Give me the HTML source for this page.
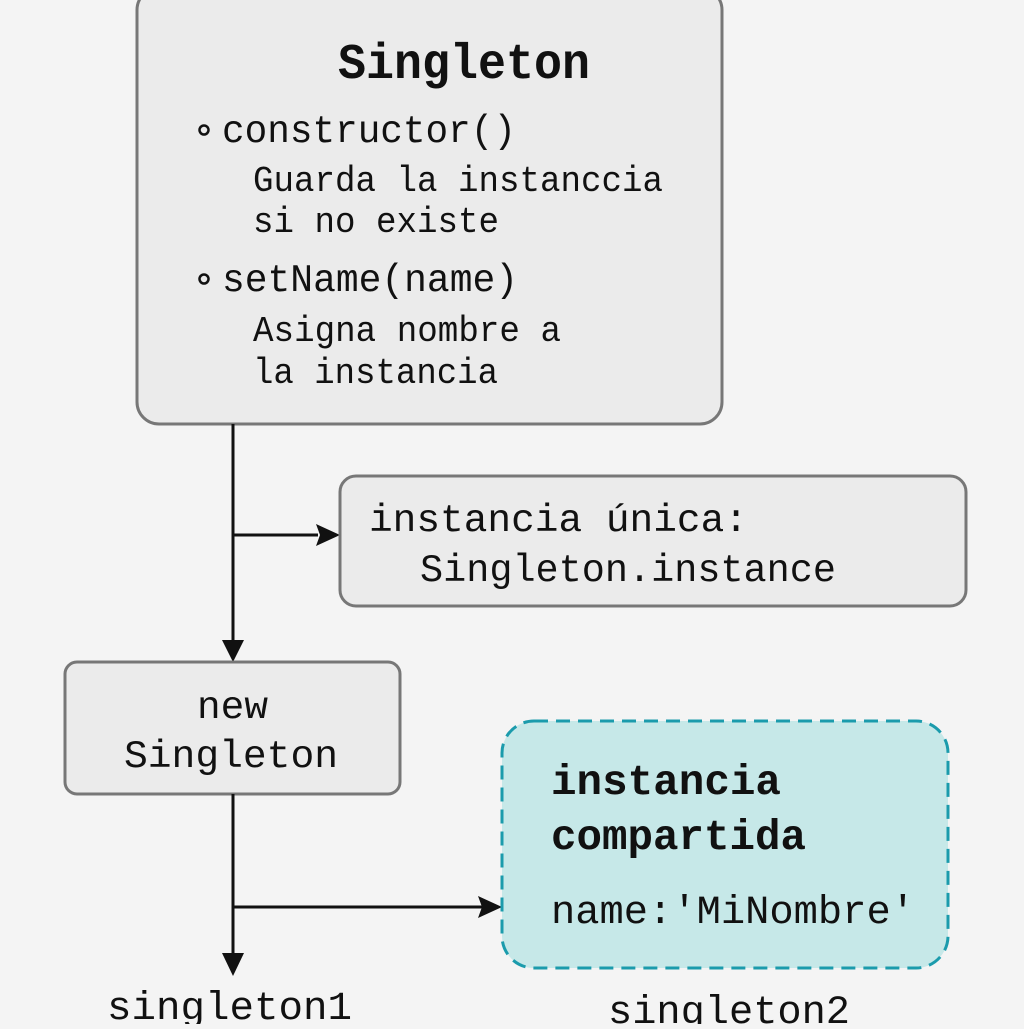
<!DOCTYPE html>
<html><head><meta charset="utf-8"><style>html,body{margin:0;padding:0;background:#f4f4f4}</style></head>
<body>
<svg width="1024" height="1024" viewBox="0 0 1024 1024" xmlns="http://www.w3.org/2000/svg" font-family="Liberation Mono, DejaVu Sans Mono, monospace" fill="#111">
<rect width="1024" height="1024" fill="#f4f4f4"/>
<rect x="137" y="-12" width="585" height="436" rx="22" fill="#ebebeb" stroke="#777" stroke-width="3"/>
<text x="338" y="78" font-size="50" font-weight="bold" textLength="252" lengthAdjust="spacingAndGlyphs">Singleton</text>
<circle cx="204" cy="130" r="4.5" fill="none" stroke="#111" stroke-width="2.5"/>
<text x="222" y="142" font-size="39" textLength="294" lengthAdjust="spacingAndGlyphs">constructor()</text>
<text x="253" y="191" font-size="36" textLength="410" lengthAdjust="spacingAndGlyphs">Guarda la instanccia</text>
<text x="253" y="232" font-size="36" textLength="246" lengthAdjust="spacingAndGlyphs">si no existe</text>
<circle cx="204" cy="279" r="4.5" fill="none" stroke="#111" stroke-width="2.5"/>
<text x="222" y="291" font-size="39" textLength="296" lengthAdjust="spacingAndGlyphs">setName(name)</text>
<text x="253" y="341" font-size="36" textLength="308" lengthAdjust="spacingAndGlyphs">Asigna nombre a</text>
<text x="253" y="383" font-size="36" textLength="245" lengthAdjust="spacingAndGlyphs">la instancia</text>
<line x1="233" y1="424" x2="233" y2="640" stroke="#111" stroke-width="3"/>
<path d="M222,640 L244,640 L233,662 z" fill="#111"/>
<line x1="233" y1="535" x2="318" y2="535" stroke="#111" stroke-width="3"/>
<path d="M316,524 L340,535 L316,546 L320,535 z" fill="#111"/>
<rect x="340" y="476" width="626" height="130" rx="16" fill="#ebebeb" stroke="#777" stroke-width="3"/>
<text x="369" y="531" font-size="39" textLength="379" lengthAdjust="spacingAndGlyphs">instancia única:</text>
<text x="420" y="581" font-size="39" textLength="416" lengthAdjust="spacingAndGlyphs">Singleton.instance</text>
<rect x="65" y="662" width="335" height="132" rx="12" fill="#ebebeb" stroke="#777" stroke-width="3"/>
<text x="197" y="718" font-size="39" textLength="71" lengthAdjust="spacingAndGlyphs">new</text>
<text x="124" y="767" font-size="39" textLength="214" lengthAdjust="spacingAndGlyphs">Singleton</text>
<line x1="233" y1="794" x2="233" y2="955" stroke="#111" stroke-width="3"/>
<path d="M222,953 L244,953 L233,976 z" fill="#111"/>
<line x1="233" y1="907" x2="482" y2="907" stroke="#111" stroke-width="3"/>
<path d="M478,896 L502,907 L478,918 L482,907 z" fill="#111"/>
<rect x="502" y="721" width="446" height="247" rx="32" fill="#c6e8e8" stroke="#1b9bac" stroke-width="3" stroke-dasharray="14,8"/>
<text x="551" y="794" font-size="43" font-weight="bold" textLength="230" lengthAdjust="spacingAndGlyphs">instancia</text>
<text x="551" y="849" font-size="43" font-weight="bold" textLength="255" lengthAdjust="spacingAndGlyphs">compartida</text>
<text x="551" y="923" font-size="40" textLength="364" lengthAdjust="spacingAndGlyphs">name:'MiNombre'</text>
<text x="107" y="1019" font-size="40" textLength="245" lengthAdjust="spacingAndGlyphs">singleton1</text>
<text x="608" y="1023" font-size="40" textLength="242" lengthAdjust="spacingAndGlyphs">singleton2</text>
</svg>
</body></html>
